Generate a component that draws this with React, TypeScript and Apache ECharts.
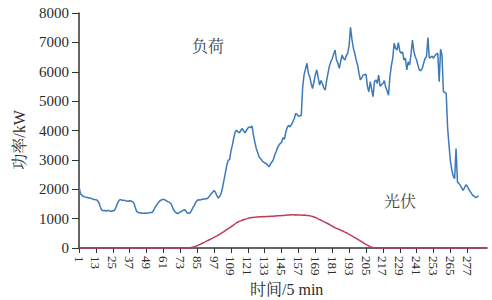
import React, { useEffect, useRef } from "react";
import * as echarts from "echarts";

// time steps (5-min intervals)
const categories: string[] = Array.from({ length: 291 }, (_, i) => String(i + 1));
const labelEvery = 12;
const lastLabel = 277;

const loadSeriesName = "负荷";
const pvSeriesName = "光伏";

// load (kW)
const loadValues: number[] = [
  2100, 1850, 1800, 1760, 1740, 1730, 1720, 1700, 1700, 1680,
  1660, 1650, 1645, 1620, 1560, 1420, 1300, 1270, 1280, 1260,
  1270, 1280, 1260, 1250, 1270, 1270, 1350, 1485, 1580, 1645,
  1640, 1620, 1630, 1610, 1600, 1590, 1610, 1600, 1580, 1530,
  1380, 1245, 1210, 1200, 1190, 1180, 1180, 1190, 1185, 1190,
  1200, 1205, 1210, 1280, 1370, 1450, 1520, 1580, 1620, 1650,
  1655, 1640, 1610, 1580, 1560, 1530, 1450, 1320, 1245, 1200,
  1170, 1190, 1230, 1250, 1280, 1310, 1250, 1190, 1180, 1200,
  1280, 1380, 1450, 1560, 1620, 1645, 1630, 1650, 1660, 1670,
  1680, 1680, 1720, 1780, 1850, 1900, 1960, 1900, 1780, 1700,
  1760, 1850, 2050, 2300, 2550, 2800, 2990, 3000, 3300, 3500,
  3750, 3950, 4010, 3950, 3920, 4000, 4070, 3980, 3920, 4000,
  4080, 4120, 4100, 4150, 3840, 3600, 3390, 3250, 3100, 3050,
  2980, 2930, 2900, 2870, 2830, 2760, 2850, 2920, 2990, 3150,
  3270, 3400, 3500, 3560, 3600, 3750, 3700, 3950, 4100, 4180,
  4120, 4200, 4300, 4400, 4580, 4550, 4480, 4500, 4520, 5490,
  5900, 6100, 6290, 5950, 5830, 5600, 5430, 5650, 5900, 6060,
  5800, 5545, 5700, 5600, 5450, 5375, 5700, 5950, 6200, 6340,
  6450, 6600, 6740, 6400, 6300, 6115, 6350, 6570, 6450, 6400,
  6550, 6630, 6900, 7515, 7100, 6800, 6630, 6400, 6230, 5950,
  5720, 5800, 5890, 5900, 5920, 5500, 5320, 5660, 5400, 5150,
  5660, 5720, 5600, 5890, 5510, 5560, 5600, 5700, 5470, 5350,
  5200, 5830, 6200, 6460, 6970, 6800, 6740, 6990, 6700, 6630,
  6680, 6400, 6460, 6060, 6340, 6230, 6600, 7080, 6700, 6510,
  6400, 6200, 6060, 6035, 6115, 6300, 6450, 6510, 7160, 6460,
  6500, 6535, 6460, 6550, 6600, 6630, 5660, 6765, 6570, 5320,
  5300, 5260, 4100, 3500, 2950, 2650, 2450, 2360, 3386, 2250,
  2200, 2130, 2050, 1960, 2050, 2150, 2100, 2000, 1930, 1850,
  1790, 1760, 1715, 1740, 1770,
];

// photovoltaic output (kW)
const pvValues: number[] = [
  0, 0, 0, 0, 0, 0, 0, 0, 0, 0,
  0, 0, 0, 0, 0, 0, 0, 0, 0, 0,
  0, 0, 0, 0, 0, 0, 0, 0, 0, 0,
  0, 0, 0, 0, 0, 0, 0, 0, 0, 0,
  0, 0, 0, 0, 0, 0, 0, 0, 0, 0,
  0, 0, 0, 0, 0, 0, 0, 0, 0, 0,
  0, 0, 0, 0, 0, 0, 0, 0, 0, 0,
  0, 0, 0, 0, 0, 0, 0, 0, 0, 8,
  20, 32, 45, 60, 80, 100, 122, 145, 170, 192,
  215, 240, 265, 290, 312, 336, 360, 385, 410, 440,
  470, 500, 530, 560, 592, 625, 656, 688, 720, 755,
  790, 825, 860, 885, 905, 925, 945, 962, 978, 992,
  1008, 1018, 1028, 1036, 1042, 1048, 1052, 1058, 1062, 1060,
  1066, 1070, 1068, 1072, 1075, 1074, 1078, 1082, 1080, 1086,
  1090, 1095, 1100, 1098, 1104, 1110, 1108, 1115, 1120, 1125,
  1122, 1128, 1130, 1126, 1130, 1125, 1122, 1126, 1120, 1118,
  1120, 1115, 1110, 1105, 1095, 1085, 1075, 1058, 1040, 1015,
  990, 968, 945, 922, 900, 875, 850, 825, 800, 772,
  745, 718, 690, 670, 650, 630, 610, 588, 565, 542,
  520, 492, 465, 438, 410, 382, 355, 328, 300, 270,
  240, 210, 180, 150, 122, 95, 70, 48, 30, 15,
  5, 0, 0, 0, 0, 0, 0, 0, 0, 0,
  0, 0, 0, 0, 0, 0, 0, 0, 0, 0,
  0, 0, 0, 0, 0, 0, 0, 0, 0, 0,
  0, 0, 0, 0, 0, 0, 0, 0, 0, 0,
  0, 0, 0, 0, 0, 0, 0, 0, 0, 0,
  0, 0, 0, 0, 0, 0, 0, 0, 0, 0,
  0, 0, 0, 0, 0, 0, 0, 0, 0, 0,
  0, 0, 0, 0, 0, 0, 0, 0, 0, 0,
  0,
];

const yAxisName = "功率/kW";
const xAxisName = "时间/5 min";

const FONT = "Liberation Serif, Times New Roman, Noto Serif CJK SC, Noto Sans CJK SC, serif";
const TEXT = "#2b2b2b";

export default function App() {
  const ref = useRef<HTMLDivElement | null>(null);

  useEffect(() => {
    if (!ref.current) return;
    const chart = echarts.init(ref.current, undefined, { renderer: "svg" });
    const showIdx = (index: number) =>
      index % labelEvery === 0 && index + 1 <= lastLabel;

    chart.setOption({
      animation: false,
      backgroundColor: "#ffffff",
      textStyle: { fontFamily: FONT },
      grid: { left: 79, right: 5, top: 13, bottom: 52 },
      xAxis: {
        type: "category",
        data: categories,
        boundaryGap: false,
        axisLine: { lineStyle: { color: "#333", width: 1.5 } },
        axisTick: {
          interval: showIdx,
          length: 5,
          lineStyle: { color: "#333", width: 1 },
        },
        axisLabel: {
          interval: showIdx,
          rotate: -90,
          margin: 8,
          color: TEXT,
          fontFamily: FONT,
          fontSize: 13,
        },
        splitLine: { show: false },
      },
      yAxis: {
        type: "value",
        min: 0,
        max: 8000,
        interval: 1000,
        axisLine: { show: true, lineStyle: { color: "#333", width: 1.5 } },
        axisTick: { show: true, length: 7, lineStyle: { color: "#333", width: 1 } },
        axisLabel: {
          color: TEXT,
          fontFamily: FONT,
          fontSize: 15,
          margin: 10,
          formatter: (v: number) => String(v),
        },
        splitLine: { show: false },
      },
      series: [
        {
          name: loadSeriesName,
          type: "line",
          data: loadValues,
          showSymbol: false,
          symbol: "none",
          lineStyle: { color: "#3c79b9", width: 1.5 },
          itemStyle: { color: "#3c79b9" },
          z: 3,
        },
        {
          name: pvSeriesName,
          type: "line",
          data: pvValues,
          showSymbol: false,
          symbol: "none",
          lineStyle: { color: "#c03a55", width: 1.5 },
          itemStyle: { color: "#c03a55" },
          z: 4,
        },
      ],
      graphic: [
        {
          type: "text",
          left: 192,
          top: 38,
          style: { text: loadSeriesName, fontSize: 16, fontFamily: FONT, fill: "#444" },
        },
        {
          type: "text",
          left: 384,
          top: 193,
          style: { text: pvSeriesName, fontSize: 16, fontFamily: FONT, fill: "#444" },
        },
        {
          type: "text",
          x: 19,
          y: 140,
          rotation: Math.PI / 2,
          style: {
            text: yAxisName,
            fontSize: 16,
            fontFamily: FONT,
            fill: TEXT,
            align: "center",
            verticalAlign: "middle",
          },
        },
        {
          type: "text",
          left: 250,
          top: 281,
          style: { text: xAxisName, fontSize: 16, fontFamily: FONT, fill: TEXT },
        },
      ],
    });
    return () => chart.dispose();
  }, []);

  return (
    <div
      ref={ref}
      style={{ position: "fixed", left: 0, top: 0, width: 492, height: 300 }}
    />
  );
}
